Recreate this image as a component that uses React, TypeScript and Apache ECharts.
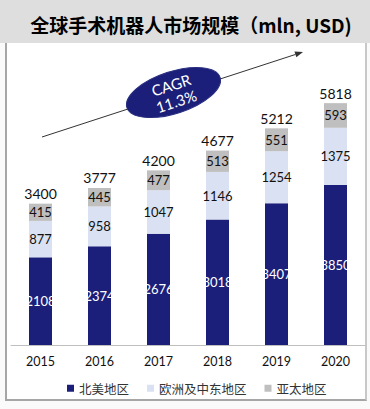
import React, { useEffect, useRef } from "react";
import * as echarts from "echarts";

const years = ["2015", "2016", "2017", "2018", "2019", "2020"];
const northAmerica = [2108, 2374, 2676, 3018, 3407, 3850];
const europeME = [877, 958, 1047, 1146, 1254, 1375];
const asiaPacific = [415, 445, 477, 513, 551, 593];
const totals = [3400, 3777, 4200, 4677, 5212, 5818];
const seriesNames = ["北美地区", "欧洲及中东地区", "亚太地区"];
const titleText = "全球手术机器人市场规模（mln, USD)";
const cagrLines = ["CAGR", "11.3%"];

const NAVY = "#1b1f7a";
const LIGHT = "#d9e1f2";
const GRAY = "#bfbfbf";
const NUM_FONT = "Lato, 'Noto Sans', sans-serif";
const CJK_FONT = "'Noto Sans CJK SC', sans-serif";

export default function App() {
  const ref = useRef<HTMLDivElement>(null);

  useEffect(() => {
    if (!ref.current) return;
    const chart = echarts.init(ref.current, undefined, { renderer: "svg" });

    const segLabel = (color: string) => ({
      show: true,
      position: "inside" as const,
      color,
      fontSize: 13,
      fontFamily: NUM_FONT,
    });

    // arrow geometry (annotation)
    const x1 = 42, y1 = 137, tx = 303, ty = 52;
    const dx = tx - x1, dy = ty - y1;
    const len = Math.sqrt(dx * dx + dy * dy);
    const ux = dx / len, uy = dy / len;
    const headL = 8, headW = 3;
    const bx = tx - headL * ux, by = ty - headL * uy;
    const nx = -uy, ny = ux;
    const angle = Math.atan2(-dy, dx);

    chart.setOption({
      animation: false,
      title: {
        text: titleText,
        left: 186,
        textAlign: "center",
        top: 10,
        textStyle: {
          fontSize: 19,
          fontWeight: "bold",
          fontFamily: CJK_FONT,
          color: "#000",
        },
      },
      legend: {
        data: seriesNames,
        left: 62,
        top: 377,
        itemWidth: 7,
        itemHeight: 7,
        itemGap: 18,
        icon: "rect",
        textStyle: { fontSize: 12.5, fontFamily: CJK_FONT, color: "#333" },
      },
      grid: { left: 11, right: 5, top: 54, bottom: 64 },
      xAxis: {
        type: "category",
        data: years,
        axisLine: { lineStyle: { color: "#bfbfbf", width: 1 } },
        axisTick: { show: false },
        axisLabel: {
          color: "#111",
          fontSize: 12.5,
          fontFamily: NUM_FONT,
          margin: 10,
        },
      },
      yAxis: {
        type: "value",
        min: 0,
        max: 7000,
        show: false,
        splitLine: { show: false },
      },
      series: [
        {
          name: seriesNames[0],
          type: "bar",
          stack: "total",
          barWidth: 23,
          data: northAmerica,
          itemStyle: { color: NAVY },
          label: segLabel("#ffffff"),
        },
        {
          name: seriesNames[1],
          type: "bar",
          stack: "total",
          data: europeME,
          itemStyle: { color: LIGHT },
          label: segLabel("#111"),
        },
        {
          name: seriesNames[2],
          type: "bar",
          stack: "total",
          data: asiaPacific,
          itemStyle: { color: GRAY },
          label: segLabel("#111"),
        },
        {
          name: "合计",
          type: "bar",
          stack: "total",
          data: totals.map(() => 0),
          itemStyle: { color: "rgba(0,0,0,0)" },
          label: {
            show: true,
            position: "top",
            distance: 3,
            color: "#111",
            fontSize: 14,
            fontFamily: NUM_FONT,
            formatter: (p: any) => String(totals[p.dataIndex]),
          },
        },
      ],
      graphic: [
        {
          type: "polyline",
          shape: { points: [[x1, y1], [bx, by]] },
          style: { stroke: "#333", lineWidth: 1, fill: null },
          z: 10,
        },
        {
          type: "polygon",
          shape: {
            points: [
              [tx, ty],
              [bx + headW * nx, by + headW * ny],
              [bx - headW * nx, by - headW * ny],
            ],
          },
          style: { fill: "#333" },
          z: 10,
        },
        {
          type: "group",
          x: 173.5,
          y: 92.5,
          rotation: angle,
          z: 20,
          children: [
            {
              type: "ellipse",
              shape: { cx: 0, cy: 0, rx: 49, ry: 21 },
              style: { fill: NAVY, stroke: "#2a2f80", lineWidth: 1 },
              z: 20,
            },
            {
              type: "text",
              x: 0,
              y: -8,
              style: {
                text: cagrLines[0],
                fill: "#fff",
                fontSize: 15,
                fontFamily: NUM_FONT,
                align: "center",
                verticalAlign: "middle",
              },
              z: 21,
            },
            {
              type: "text",
              x: 0,
              y: 9,
              style: {
                text: cagrLines[1],
                fill: "#fff",
                fontSize: 15,
                fontFamily: NUM_FONT,
                align: "center",
                verticalAlign: "middle",
              },
              z: 21,
            },
          ],
        },
      ],
    });

    return () => chart.dispose();
  }, []);

  return (
    <div
      style={{
        position: "fixed",
        left: 0,
        top: 0,
        width: 370,
        height: 409,
        background: "#fafafa",
        overflow: "hidden",
      }}
    >
      <div
        style={{
          position: "absolute",
          left: 0,
          top: 0,
          width: 370,
          height: 43,
          background: "#dedede",
        }}
      />
      <div
        style={{
          position: "absolute",
          left: 5,
          top: 43,
          width: 358,
          height: 356,
          background: "#ffffff",
          borderLeft: "2px solid #a6a6a6",
          borderRight: "2px solid #c8c8c8",
          borderBottom: "2px solid #a6a6a6",
        }}
      />
      <div
        ref={ref}
        style={{ position: "absolute", left: 0, top: 0, width: 370, height: 409 }}
      />
    </div>
  );
}
